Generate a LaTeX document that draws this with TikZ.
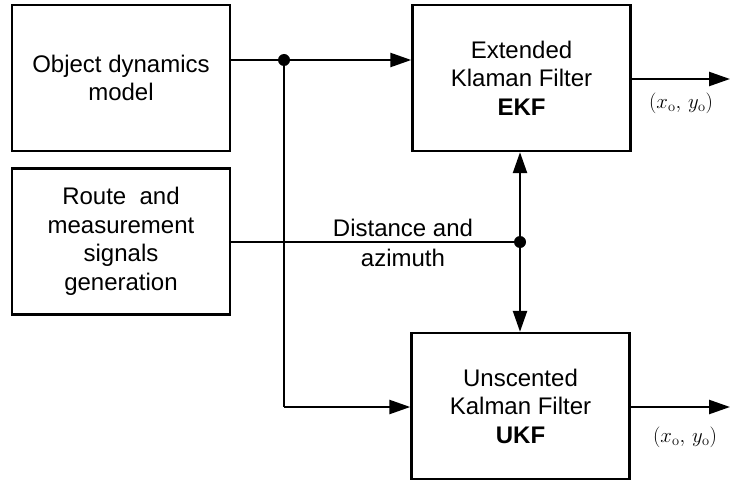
\documentclass[tikz,border=0pt]{standalone}
\usepackage[no-math]{fontspec}
\setmainfont{Liberation Sans}
\usetikzlibrary{arrows.meta}
\begin{document}
\begin{tikzpicture}[x=1pt,y=-1pt,
  blk/.style={draw, line width=2.4pt, minimum width=218pt, minimum height=146pt, inner sep=0pt, align=center, font=\fontsize{24}{28.5}\selectfont},
  conn/.style={line width=2.4pt},
  arr/.style={conn, -{Triangle[length=21pt,width=14pt]}},
  jdot/.style={circle, fill, inner sep=0pt, minimum size=12pt},
  lbl/.style={font=\fontsize{20}{24}\selectfont, inner sep=0pt},
  txt/.style={font=\fontsize{24}{30}\selectfont, inner sep=0pt, align=center}]
\useasboundingbox (0,0) rectangle (730,481);
\node[blk] (obj) at (121,78) {Object dynamics\\model};
\node[blk] (route) at (121,241.5) {Route\ \ and\\measurement\\signals\\generation};
\node[blk] (ekf) at (521.5,78) {Extended\\Klaman Filter\\\textbf{EKF}};
\node[blk] (ukf) at (520.5,406) {Unscented\\Kalman Filter\\\textbf{UKF}};
\coordinate (j1) at (284,60);
\coordinate (j2) at (520,242);
\coordinate (c1) at (284,407);
\coordinate (o1) at (730,79);
\coordinate (o2) at (730,407);
\draw[conn] (obj.east |- j1) -- (j1);
\draw[arr] (j1) -- (ekf.west |- j1);
\draw[conn] (j1) -- (c1);
\draw[arr] (c1) -- (ukf.west |- c1);
\draw[conn] (route.east |- j2) -- (j2);
\draw[arr] (j2) -- (j2 |- ekf.south);
\draw[arr] (j2) -- (j2 |- ukf.north);
\draw[arr] (ekf.east |- o1) -- (o1);
\draw[arr] (ukf.east |- o2) -- (o2);
\node[jdot] (d1) at (j1) {};
\node[jdot] (d2) at (j2) {};
\node[txt] (dist) at (403,243) {Distance and\\azimuth};
\node[lbl] (l1) at (681,103) {$(x_{\mathrm{o}},\, y_{\mathrm{o}})$};
\node[lbl] (l2) at (685,437) {$(x_{\mathrm{o}},\, y_{\mathrm{o}})$};
\end{tikzpicture}
\end{document}
